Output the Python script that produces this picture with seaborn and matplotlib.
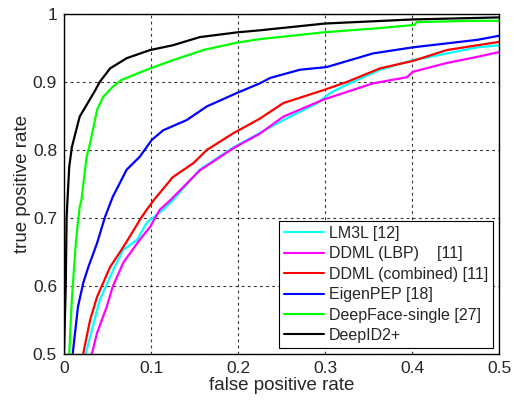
import matplotlib
matplotlib.use("Agg")
import matplotlib.pyplot as plt
import seaborn as sns
import pandas as pd

# ROC curves (false positive rate, true positive rate)
LM3L_FPR = [0.025, 0.033, 0.041, 0.056, 0.068, 0.084, 0.095, 0.114, 0.125, 0.156, 0.195, 0.225,
            0.252, 0.291, 0.306, 0.325, 0.363, 0.401, 0.44, 0.475, 0.5]
LM3L_TPR = [0.5, 0.54, 0.579, 0.622, 0.653, 0.668, 0.693, 0.712, 0.726, 0.771, 0.804, 0.825,
            0.844, 0.869, 0.884, 0.896, 0.918, 0.932, 0.942, 0.951, 0.954]

LBP_FPR = [0.032, 0.038, 0.049, 0.056, 0.068, 0.087, 0.099, 0.11, 0.122, 0.156, 0.195, 0.225,
           0.252, 0.298, 0.355, 0.394, 0.401, 0.44, 0.475, 0.5]
LBP_TPR = [0.5, 0.531, 0.569, 0.599, 0.634, 0.668, 0.687, 0.712, 0.726, 0.77, 0.803, 0.824,
           0.849, 0.874, 0.898, 0.907, 0.915, 0.928, 0.937, 0.944]

COMB_FPR = [0.022, 0.03, 0.038, 0.053, 0.068, 0.08, 0.087, 0.095, 0.103, 0.125, 0.149, 0.164,
            0.195, 0.225, 0.252, 0.298, 0.325, 0.363, 0.401, 0.44, 0.475, 0.5]
COMB_TPR = [0.5, 0.55, 0.584, 0.628, 0.657, 0.682, 0.697, 0.712, 0.726, 0.76, 0.781, 0.8,
            0.825, 0.846, 0.869, 0.888, 0.9, 0.92, 0.931, 0.947, 0.954, 0.959]

PEP_FPR = [0.01, 0.016, 0.022, 0.028, 0.038, 0.047, 0.056, 0.072, 0.087, 0.101, 0.114, 0.141,
           0.164, 0.199, 0.225, 0.237, 0.271, 0.302, 0.355, 0.401, 0.475, 0.5]
PEP_TPR = [0.5, 0.569, 0.604, 0.628, 0.663, 0.701, 0.731, 0.771, 0.79, 0.815, 0.829, 0.844,
           0.864, 0.884, 0.898, 0.906, 0.918, 0.922, 0.942, 0.951, 0.962, 0.968]

DF_FPR = [0.006, 0.009, 0.013, 0.015, 0.018, 0.02, 0.026, 0.03, 0.038, 0.045, 0.056, 0.066,
          0.099, 0.125, 0.16, 0.199, 0.225, 0.298, 0.36, 0.403, 0.405, 0.47, 0.5]
DF_TPR = [0.5, 0.58, 0.653, 0.682, 0.716, 0.726, 0.79, 0.81, 0.859, 0.878, 0.893, 0.903,
          0.92, 0.932, 0.947, 0.958, 0.963, 0.973, 0.979, 0.984, 0.988, 0.99, 0.99]

ID2_FPR = [0.0, 0.002, 0.003, 0.004, 0.006, 0.009, 0.018, 0.036, 0.041, 0.053, 0.072, 0.099,
           0.125, 0.156, 0.199, 0.225, 0.3, 0.401, 0.5]
ID2_TPR = [0.5, 0.6, 0.7, 0.726, 0.775, 0.804, 0.849, 0.888, 0.9, 0.92, 0.935, 0.947,
           0.954, 0.966, 0.973, 0.976, 0.986, 0.992, 0.995]

LABELS = ["LM3L [12]", "DDML (LBP)    [11]", "DDML (combined) [11]",
          "EigenPEP [18]", "DeepFace-single [27]", "DeepID2+"]
COLORS = ["#00ffff", "#ff00ff", "#ff0000", "#0000ff", "#00ff00", "#000000"]
CURVES = [(LM3L_FPR, LM3L_TPR), (LBP_FPR, LBP_TPR), (COMB_FPR, COMB_TPR),
          (PEP_FPR, PEP_TPR), (DF_FPR, DF_TPR), (ID2_FPR, ID2_TPR)]

sns.set_style("white")
plt.rcParams["font.family"] = ["Liberation Sans", "DejaVu Sans"]

fig = plt.figure(figsize=(5.14, 4.0), dpi=100)
ax = fig.add_axes([0.1245, 0.115, 0.8465, 0.85])

for label, color, (fpr, tpr) in zip(LABELS, COLORS, CURVES):
    df = pd.DataFrame({"fpr": fpr, "tpr": tpr})
    sns.lineplot(data=df, x="fpr", y="tpr", ax=ax, color=color, linewidth=1.6,
                 label=label, sort=False, estimator=None)

ax.set_xlim(0, 0.5)
ax.set_ylim(0.5, 1.0)
ax.set_xticks([0, 0.1, 0.2, 0.3, 0.4, 0.5])
ax.set_xticklabels(["0", "0.1", "0.2", "0.3", "0.4", "0.5"])
ax.set_yticks([0.5, 0.6, 0.7, 0.8, 0.9, 1.0])
ax.set_yticklabels(["0.5", "0.6", "0.7", "0.8", "0.9", "1"])
ax.tick_params(axis="both", labelsize=12.5, length=0, pad=5)
ax.grid(True, color="#333333", linestyle=(0, (2.5, 3)), linewidth=0.8)
for side in ax.spines.values():
    side.set_color("black")
    side.set_linewidth(1.0)
ax.set_xlabel("false positive rate", fontsize=13.5, labelpad=1)
ax.set_ylabel("true positive rate", fontsize=13.5, labelpad=1)

leg = ax.legend(loc="lower right", bbox_to_anchor=(0.985, 0.018), fontsize=11.5,
                frameon=True, fancybox=False, edgecolor="black", framealpha=1,
                handlelength=2.5, handletextpad=0.3, labelspacing=0.34,
                borderpad=0.3, borderaxespad=0)
leg.get_frame().set_linewidth(0.8)
for line in leg.get_lines():
    line.set_linewidth(1.5)

fig.savefig("out.png", dpi=100)
